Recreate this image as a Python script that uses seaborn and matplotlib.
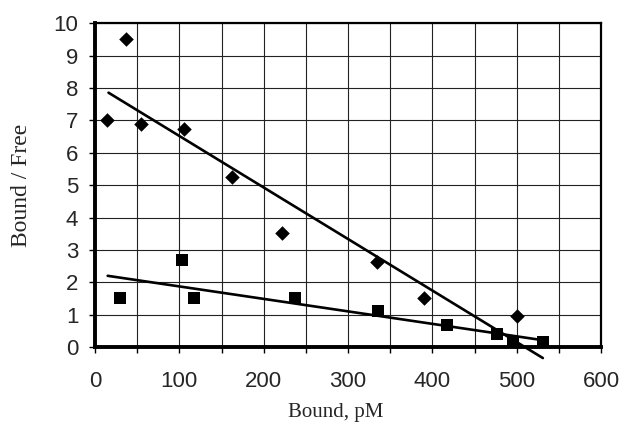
#!/usr/bin/env python3
# Scatchard-style plot: Bound / Free against Bound, two series with
# linear least-squares trend lines, redrawn with seaborn + matplotlib.
import numpy as np
import pandas as pd
import matplotlib
matplotlib.use("Agg")
import matplotlib.pyplot as plt
import seaborn as sns

# Data
diamond_x = [14, 37, 55, 105, 163, 222, 334, 390, 500]
diamond_y = [7.0, 9.5, 6.9, 6.72, 5.25, 3.53, 2.63, 1.52, 0.97]
square_x = [30, 103, 117, 237, 335, 417, 477, 496, 531]
square_y = [1.52, 2.7, 1.52, 1.5, 1.12, 0.68, 0.4, 0.16, 0.15]

# x range over which each trend line is drawn
diamond_fit_range = [16, 531]
square_fit_range = [15, 534]

x_ticks = list(range(0, 601, 50))
x_labels = [str(v) if v % 100 == 0 else "" for v in x_ticks]
y_ticks = list(range(0, 11))

sns.set_style("white")
plt.rcParams["font.family"] = ["Liberation Sans", "DejaVu Sans"]

df = pd.concat([
    pd.DataFrame({"bound": diamond_x, "ratio": diamond_y, "series": "diamond"}),
    pd.DataFrame({"bound": square_x, "ratio": square_y, "series": "square"}),
])

fig = plt.figure(figsize=(6.19, 4.29), dpi=100)
ax = fig.add_axes([0.1535, 0.191, 0.8175, 0.755])

ax.set_xlim(0, 600)
ax.set_ylim(0, 10)
ax.set_xticks(x_ticks)
ax.set_xticklabels(x_labels)
ax.set_yticks(y_ticks)
ax.grid(True, color="#222222", linewidth=0.8)
ax.set_axisbelow(True)

# trend lines (least squares, like the spreadsheet trendline)
for xs, ys, rng in [(diamond_x, diamond_y, diamond_fit_range),
                    (square_x, square_y, square_fit_range)]:
    slope, icpt = np.polyfit(xs, ys, 1)
    lx = np.array(rng, dtype=float)
    ax.plot(lx, slope * lx + icpt, color="black", linewidth=1.9,
            clip_on=False, zorder=3)

sns.scatterplot(data=df[df.series == "diamond"], x="bound", y="ratio",
                marker="D", s=55, color="black", edgecolor="black",
                linewidth=0, ax=ax, zorder=4, clip_on=False)
sns.scatterplot(data=df[df.series == "square"], x="bound", y="ratio",
                marker="s", s=80, color="black", edgecolor="black",
                linewidth=0, ax=ax, zorder=4, clip_on=False)

for side in ["left", "bottom"]:
    ax.spines[side].set_linewidth(2.8)
for side in ["right", "top"]:
    ax.spines[side].set_linewidth(1.6)
for s in ax.spines.values():
    s.set_color("black")
    s.set_zorder(5)

ax.tick_params(axis="both", which="major", direction="out", length=4,
               width=1.0, color="black", labelsize=16, bottom=True, left=True)
ax.tick_params(axis="x", pad=13)
ax.tick_params(axis="y", pad=8)

ax.set_xlabel("Bound, pM", family=["Liberation Serif", "DejaVu Serif"],
              fontsize=15)
ax.xaxis.set_label_coords(0.476, -0.172)
ax.set_ylabel("Bound / Free", family=["Liberation Serif", "DejaVu Serif"],
              fontsize=17)
ax.yaxis.set_label_coords(-0.125, 0.5)

fig.savefig("out.png", dpi=100)
plt.close(fig)
